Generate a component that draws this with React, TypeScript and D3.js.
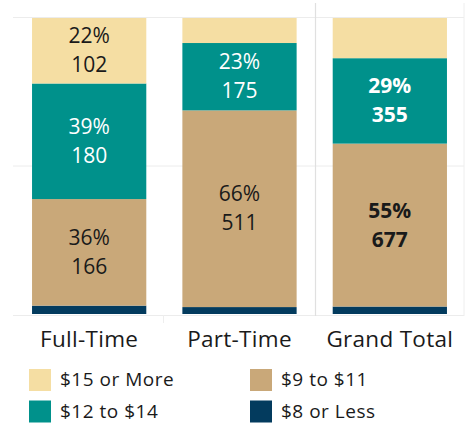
import React from "react";
import * as d3 from "d3";

const categories = ["Full-Time", "Part-Time", "Grand Total"];
const seriesNames = ["$8 or Less", "$9 to $11", "$12 to $14", "$15 or More"];
const eightOrLess = [13, 18, 31];
const nineToEleven = [166, 511, 677];
const twelveToFourteen = [180, 175, 355];
const fifteenOrMore = [102, 65, 167];
const colors = ["#033B5E", "#C9A879", "#00918B", "#F5DEA3"];
const labelColors = ["#fff", "#1a1a1a", "#fff", "#1a1a1a"];
const showLabel = [
  [false, true, true, true],
  [false, true, true, false],
  [false, true, true, false],
];
const legendOrder = [3, 1, 2, 0];

const W = 467;
const H = 423;

export default function App() {
  const series = [eightOrLess, nineToEleven, twelveToFourteen, fifteenOrMore];
  const x = d3.scaleBand().domain(categories).range([14, 465]).paddingInner(0.24).paddingOuter(0.12);
  const y = d3.scaleLinear().domain([0, 1]).range([314, 18]);
  const font = "'Open Sans', sans-serif";

  const rows = categories.map((c, i) => {
    const total = series.reduce((s, arr) => s + arr[i], 0);
    let acc = 0;
    return series.map((arr, k) => {
      const v = arr[i];
      const y0 = acc / total;
      acc += v;
      const y1 = acc / total;
      return { c, k, v, y0, y1, pct: v / total };
    });
  });

  return (
    <svg width={W} height={H} style={{ position: "absolute", left: 0, top: 0, background: "#fff" }}>
      {/* grid lines */}
      <line x1={13} x2={464} y1={y(1) - 0.5} y2={y(1) - 0.5} stroke="#ececec" strokeWidth={1} />
      <line x1={13} x2={464} y1={y(0.5)} y2={y(0.5)} stroke="#ececec" strokeWidth={1} />
      <line x1={13} x2={464} y1={y(0) + 1.5} y2={y(0) + 1.5} stroke="#ececec" strokeWidth={1} />
      <line x1={315.5} x2={315.5} y1={3} y2={316} stroke="#e0e0e0" strokeWidth={1.2} />
      <line x1={464} x2={464} y1={3} y2={316} stroke="#eeeeee" strokeWidth={1} />
      <line x1={163.5} x2={163.5} y1={315} y2={323} stroke="#eeeeee" strokeWidth={1} />
      {rows.map((segs, i) => (
        <g key={categories[i]}>
          {segs.map((s) => (
            <rect
              key={s.k}
              x={x(s.c)!}
              width={x.bandwidth()}
              y={y(s.y1)}
              height={y(s.y0) - y(s.y1)}
              fill={colors[s.k]}
            />
          ))}
          {segs.map((s) => {
            if (!showLabel[i][s.k]) return null;
            const cy = (y(s.y0) + y(s.y1)) / 2;
            const cx = x(s.c)! + x.bandwidth() / 2;
            return (
              <text
                key={"t" + s.k}
                x={cx}
                textAnchor="middle"
                fontFamily={font}
                fontSize={21}
                fontWeight={i === 2 ? 700 : 400}
                fill={labelColors[s.k]}
              >
                <tspan x={cx} y={cy - 7.5}>{Math.round(s.pct * 100) + "%"}</tspan>
                <tspan x={cx} y={cy + 21.5}>{s.v}</tspan>
              </text>
            );
          })}
          <text
            x={x(categories[i])! + x.bandwidth() / 2}
            y={347}
            textAnchor="middle"
            fontFamily={font}
            fontSize={22.5}
            letterSpacing={0.3}
            fill="#1a1a1a"
          >
            {categories[i]}
          </text>
        </g>
      ))}
      {legendOrder.map((k, j) => {
        const col = j % 2;
        const row = Math.floor(j / 2);
        const lx = col === 0 ? 29 : 250;
        const ly = 369 + row * 31.5;
        return (
          <g key={seriesNames[k]}>
            <rect x={lx} y={ly} width={22} height={22} fill={colors[k]} />
            <text
              x={lx + 31}
              y={ly + 17}
              fontFamily={font}
              fontSize={19}
              letterSpacing={0.5}
              fill="#1a1a1a"
            >
              {seriesNames[k]}
            </text>
          </g>
        );
      })}
    </svg>
  );
}
